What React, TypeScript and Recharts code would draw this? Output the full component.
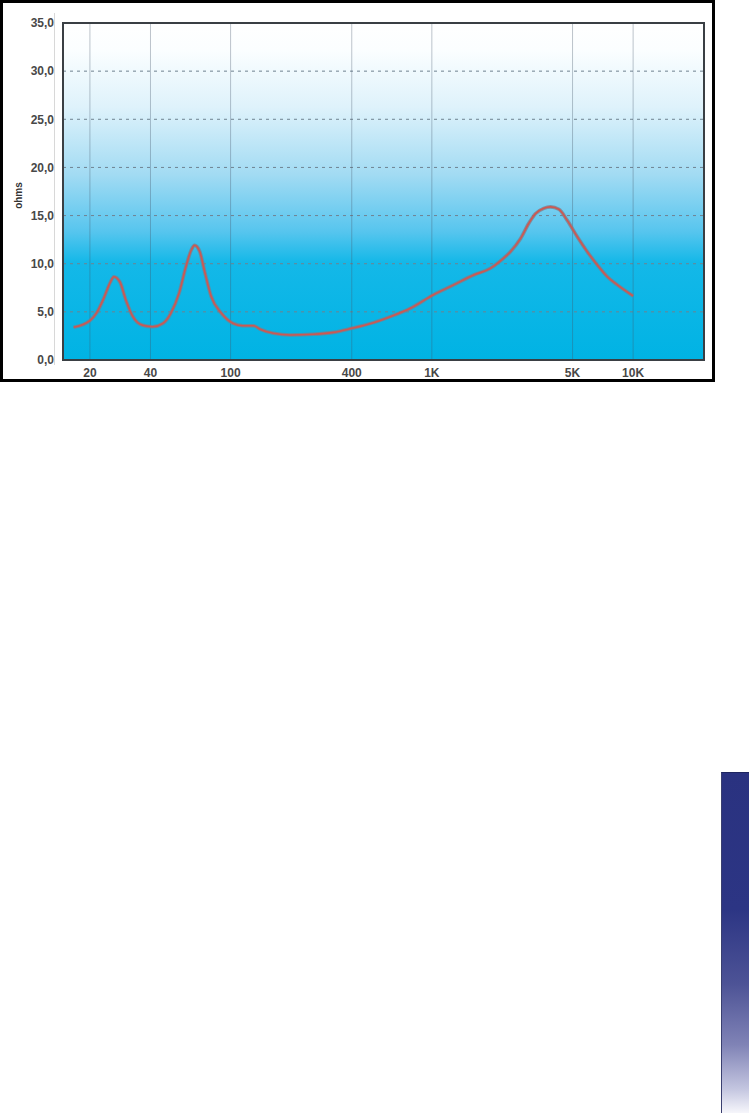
import React from "react";
import { LineChart, Line, XAxis, YAxis, CartesianGrid, ReferenceArea } from "recharts";

// frequency (Hz) and impedance (ohms)
const freqs = [
  16.6, 20, 21.6, 23.2, 25.3, 26.3, 28.2, 30.2, 32.7, 36.6, 41, 46.1, 50.6, 55.5, 60, 63.7, 66.3,
  70.3, 74, 80.1, 90.1, 103, 115, 130, 140, 163, 198, 258, 325, 400, 513, 622, 782, 1014, 1284,
  1615, 1954, 2193, 2458, 2756, 3033, 3273, 3599, 3886, 4276, 4706, 5278, 5917, 6637, 7444, 8348,
  10000,
];
const ohms = [
  3.4, 4.1, 4.9, 6.2, 8.1, 8.65, 8.1, 6.2, 4.5, 3.6, 3.45, 3.8, 4.9, 6.95, 9.7, 11.4, 11.9, 11.25,
  9.35, 6.6, 4.85, 3.8, 3.56, 3.56, 3.2, 2.77, 2.6, 2.67, 2.87, 3.29, 3.88, 4.5, 5.37, 6.75, 7.8,
  8.83, 9.52, 10.3, 11.25, 12.6, 14.2, 15.2, 15.75, 15.9, 15.65, 14.5, 12.8, 11.25, 9.87, 8.65, 7.8,
  6.65,
];

const xTicks = [20, 40, 100, 400, 1000, 5000, 10000];
const xTickLabels = ["20", "40", "100", "400", "1K", "5K", "10K"];
const yTicks = [0, 5, 10, 15, 20, 25, 30, 35];
const xDomain = [14.7, 22500];

const data = freqs.map((f, i) => ({ f, z: ohms[i] }));

const tickStyle = { fontSize: 12, fontWeight: 700, fill: "#484848", fontFamily: "'Liberation Sans', Arial, sans-serif" };

const OhmsLabel = ({ viewBox }: any) => {
  const cx = viewBox.x + 5;
  const cy = viewBox.y + viewBox.height / 2 + 4;
  return (
    <text
      x={cx}
      y={cy}
      transform={`rotate(-90, ${cx}, ${cy})`}
      textAnchor="middle"
      dominantBaseline="central"
      style={{ fontSize: 10, fontWeight: 700, fill: "#333", fontFamily: "'Liberation Sans', Arial, sans-serif" }}
    >
      ohms
    </text>
  );
};

export default function App() {
  return (
    <div style={{ position: "absolute", left: 0, top: 0, width: 753, height: 1114, background: "#fff" }}>
      <div
        style={{
          position: "absolute",
          left: 0,
          top: 0,
          width: 715,
          height: 382,
          boxSizing: "border-box",
          border: "3px solid #000",
        }}
      />
      {/* faint axis line left of the plot */}
      <div style={{ position: "absolute", left: 54, top: 13, width: 1, height: 352, background: "#d8d8d8" }} />
      <div style={{ position: "absolute", left: 0, top: 0 }}>
        <LineChart width={715} height={382} data={data} margin={{ top: 23, right: 11, left: 13, bottom: 2 }}>
          <defs>
            <linearGradient id="bg" x1="0" y1="0" x2="0" y2="1">
              <stop offset="0%" stopColor="#ffffff" />
              <stop offset="8%" stopColor="#fbfeff" />
              <stop offset="25%" stopColor="#def2fb" />
              <stop offset="45%" stopColor="#a2dbf3" />
              <stop offset="62%" stopColor="#56c5ee" />
              <stop offset="71%" stopColor="#14b8e8" />
              <stop offset="100%" stopColor="#00b3e4" />
            </linearGradient>
          </defs>
          <CartesianGrid fill="url(#bg)" vertical={false} stroke="#6f8290" strokeDasharray="3 4" />
          <CartesianGrid horizontal={false} stroke="#44576a" strokeOpacity={0.35} />
          <XAxis
            dataKey="f"
            type="number"
            scale="log"
            domain={xDomain}
            ticks={xTicks}
            tickFormatter={(v) => xTickLabels[xTicks.indexOf(v)] ?? ""}
            allowDataOverflow
            axisLine={false}
            tickLine={false}
            tickMargin={2}
            height={20}
            tick={tickStyle}
            interval={0}
          />
          <YAxis
            type="number"
            domain={[0, 35]}
            ticks={yTicks}
            tickFormatter={(v) => v.toFixed(1).replace(".", ",")}
            axisLine={false}
            tickLine={false}
            tickMargin={3}
            width={50}
            tick={tickStyle}
            interval={0}
            label={<OhmsLabel />}
          />
          <ReferenceArea
            x1={xDomain[0]}
            x2={xDomain[1]}
            y1={0}
            y2={35}
            fill="none"
            stroke="#3a3f44"
            strokeWidth={2}
            ifOverflow="visible"
          />
          <Line
            type="monotone"
            dataKey="z"
            stroke="#857a84"
            strokeWidth={3.6}
            strokeOpacity={0.75}
            dot={false}
            activeDot={false}
            isAnimationActive={false}
          />
          <Line
            type="monotone"
            dataKey="z"
            stroke="#cf5750"
            strokeWidth={1.6}
            dot={false}
            activeDot={false}
            isAnimationActive={false}
          />
        </LineChart>
      </div>
      {/* decorative side tab */}
      <div
        style={{
          position: "absolute",
          left: 721,
          top: 772,
          width: 27,
          height: 340,
          background:
            "linear-gradient(#2a3280 0%, #2c3584 40%, #4d5396 62%, #8083b6 80%, #c4c6e0 93%, #f6f6fb 100%)",
          borderTop: "1px solid #1e2560",
          borderLeft: "1px solid #3a3f70",
        }}
      />
    </div>
  );
}
